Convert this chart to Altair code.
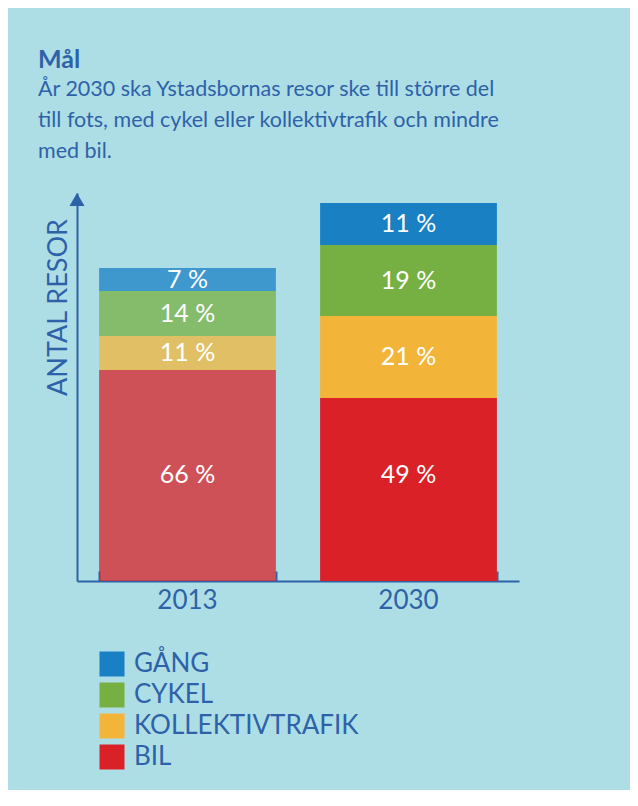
import altair as alt
import pandas as pd

# ---- data ----
years = ["2013", "2030"]
modes = ["BIL", "KOLLEKTIVTRAFIK", "CYKEL", "GÅNG"]          # stacking order, bottom -> top
antal_2013 = [211, 34, 45, 23]                                # relative number of trips (bar heights)
antal_2030 = [183, 82, 71, 42]
labels_2013 = ["66 %", "11 %", "14 %", "7 %"]
labels_2030 = ["49 %", "21 %", "19 %", "11 %"]
legend_order = ["GÅNG", "CYKEL", "KOLLEKTIVTRAFIK", "BIL"]
legend_colors = ["#1A80C4", "#76B043", "#F2B53A", "#DA2128"]

title_text = "Mål"
subtitle_lines = [
    "År 2030 ska Ystadsbornas resor ske till större del",
    "till fots, med cykel eller kollektivtrafik och mindre",
    "med bil.",
]

rows = []
for year, vals, labs in [("2013", antal_2013, labels_2013), ("2030", antal_2030, labels_2030)]:
    for i, (m, v, l) in enumerate(zip(modes, vals, labs)):
        rows.append({"year": year, "mode": m, "antal": v, "label": l, "order": i})
df = pd.DataFrame(rows)

BLUE = "#2E62A8"
BG = "#AEDEE5"
FONT = "Lato"
W, H = 442, 388
BOTTOM_LABEL_LEVEL = 106   # labels of the bottom (BIL) segments sit at a common height

xscale = alt.Scale(domain=years, paddingInner=0.2, paddingOuter=0.1)
yscale = alt.Scale(domain=[0, H], nice=False, zero=True)

base = alt.Chart(df).transform_stack(
    stack="antal", as_=["y0", "y1"], groupby=["year"], sort=[alt.SortField("order", order="ascending")]
).transform_calculate(
    mid=f"datum.order == 0 ? {BOTTOM_LABEL_LEVEL} : (datum.y0 + datum.y1) / 2"
)

bars = base.mark_bar(strokeWidth=0).encode(
    x=alt.X("year:N", scale=xscale, axis=alt.Axis(
        orient="bottom", title=None, domain=True, domainColor=BLUE, domainWidth=2,
        ticks=False, labelAngle=0, labelFontSize=26, labelColor=BLUE, labelFont=FONT,
        labelPadding=6, grid=False)),
    y=alt.Y("y0:Q", scale=yscale, axis=alt.Axis(
        title="ANTAL RESOR", domain=True, domainColor=BLUE, domainWidth=2, ticks=False,
        labels=False, grid=False, titleAngle=270, titleX=-19, titleY=114,
        titleAlign="center", titleBaseline="middle", titleFontSize=27,
        titleFontWeight="normal", titleColor=BLUE, titleFont=FONT)),
    y2="y1:Q",
    color=alt.Color("mode:N", scale=alt.Scale(domain=legend_order, range=legend_colors),
                    legend=alt.Legend(orient="none", legendX=22, legendY=458, title=None,
                                      symbolType="square", symbolSize=625, symbolStrokeWidth=0,
                                      symbolOpacity=1, labelFontSize=26, labelColor=BLUE,
                                      labelFont=FONT, labelOffset=9, rowPadding=5, padding=0,
                                      labelLimit=400, direction="vertical")),
    opacity=alt.Opacity("year:N", scale=alt.Scale(domain=years, range=[0.75, 1.0]), legend=None),
    order=alt.Order("order:Q"),
)

text = base.mark_text(color="white", fontSize=25, font=FONT, baseline="middle", align="center").encode(
    x=alt.X("year:N", scale=xscale, axis=alt.Axis(
        orient="top", offset=-H, domain=False, labels=False, ticks=True, tickBand="extent",
        tickSize=10, tickWidth=2, tickColor=BLUE, title=None, grid=False)),
    y=alt.Y("mid:Q", scale=yscale),
    text="label:N",
)

arrow = alt.Chart(pd.DataFrame({"a": [0]})).mark_point(
    shape="M-1,0.87L0,-0.87L1,0.87Z", filled=True, size=225, color=BLUE, opacity=1, strokeWidth=0
).encode(x=alt.value(0), y=alt.datum(H - 6.5, scale=yscale))

chart = alt.layer(bars, text, arrow).resolve_axis(x="independent").properties(
    width=W, height=H,
    autosize=alt.AutoSizeParams(type="none"),
    padding={"left": 69, "top": 185, "right": 111, "bottom": 209},
    background=BG,
    title=alt.TitleParams(
        text=title_text, subtitle=subtitle_lines, anchor="start", frame="group", dx=-39,
        offset=30, font=FONT, fontSize=25, fontWeight="bold", color=BLUE,
        subtitleFont=FONT, subtitleFontSize=21.5, subtitleColor=BLUE, subtitleLineHeight=31,
        subtitlePadding=6),
).configure_view(stroke=None)

chart.save("out.html", embed_options={"renderer": "svg", "actions": False})
